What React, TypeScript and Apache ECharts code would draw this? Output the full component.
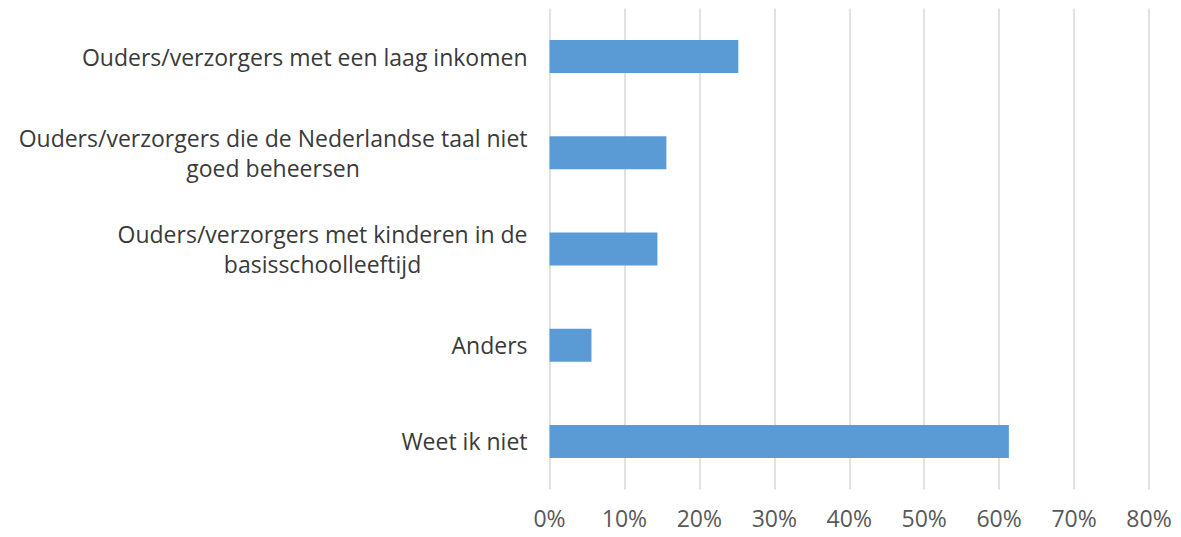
import React, { useEffect, useRef } from "react";
import * as echarts from "echarts";

const categories: string[] = [
  "Ouders/verzorgers met een laag inkomen",
  "Ouders/verzorgers die de Nederlandse taal niet\ngoed beheersen",
  "Ouders/verzorgers met kinderen in de\nbasisschoolleeftijd",
  "Anders",
  "Weet ik niet",
];
const values: number[] = [25.2, 15.6, 14.4, 5.6, 61.3];
const xTicks = { min: 0, max: 80, interval: 10 };

export default function App() {
  const ref = useRef<HTMLDivElement>(null);
  useEffect(() => {
    if (!ref.current) return;
    const chart = echarts.init(ref.current, undefined, { renderer: "svg" });
    chart.setOption({
      animation: false,
      grid: { left: 549.5, right: 32, top: 8.4, bottom: 47.4, containLabel: false },
      xAxis: {
        type: "value",
        min: xTicks.min,
        max: xTicks.max,
        interval: xTicks.interval,
        axisLine: { show: false },
        axisTick: { show: false },
        splitLine: { show: true, lineStyle: { color: "#D9D9D9", width: 1.5 } },
        axisLabel: {
          formatter: "{value}%",
          color: "#595959",
          fontFamily: "Open Sans",
          fontSize: 23,
          margin: 17,
        },
      },
      yAxis: {
        type: "category",
        inverse: true,
        data: categories,
        axisLine: { show: false },
        axisTick: { show: false },
        splitLine: { show: false },
        axisLabel: {
          margin: 22,
          formatter: (v: string) =>
            v
              .split("\n")
              .map((l) => `{c|${l}}`)
              .join("\n"),
          rich: {
            c: {
              align: "center",
              color: "#3a3a3a",
              fontFamily: "Open Sans",
              fontSize: 23,
              lineHeight: 30,
            },
          },
        },
      },
      series: [
        {
          type: "bar",
          data: values,
          barWidth: 33,
          itemStyle: { color: "#5B9BD5" },
        },
      ],
    });
    return () => chart.dispose();
  }, []);
  return (
    <div
      ref={ref}
      style={{ position: "absolute", left: 0, top: 0, width: 1181, height: 537 }}
    />
  );
}
